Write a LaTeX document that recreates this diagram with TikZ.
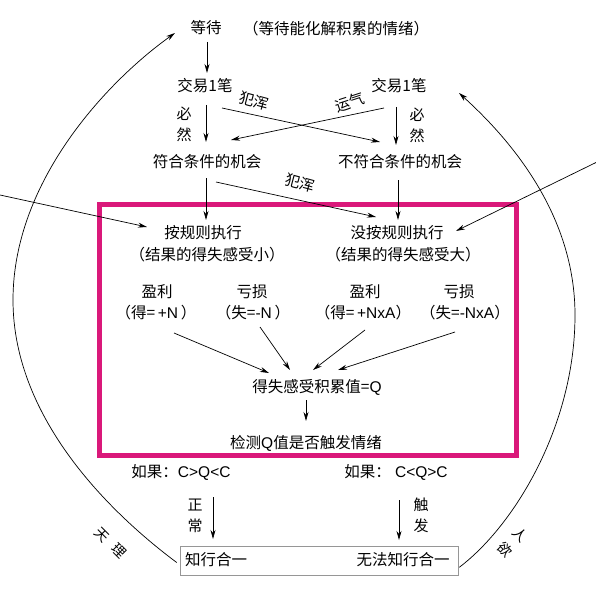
\documentclass[tikz,border=0pt]{standalone}
\usepackage{fontspec}
\newfontfamily\cjk{Noto Sans CJK SC}
\newfontfamily\lat{Liberation Sans}
\usetikzlibrary{arrows.meta}
\definecolor{framepink}{RGB}{218,24,122}
\definecolor{boxgray}{RGB}{150,150,150}
\begin{document}
\begin{tikzpicture}[x=1pt,y=-1pt,
  txt/.style={font=\cjk\fontsize{15.5}{18}\selectfont, inner sep=0pt},
  lbl/.style={font=\cjk\fontsize{15}{21}\selectfont, inner sep=0pt, align=center},
  arcl/.style={font=\cjk\fontsize{14}{16}\selectfont, inner sep=0pt, rotate=-45},
  arr/.style={draw, line width=0.7pt, -{Stealth[length=9pt,width=5pt]}}]
\useasboundingbox (0,0) rectangle (596,599);
% pink frame
\draw[framepink, line width=4.5pt] (99.5,204.5) rectangle (516.5,455.5);
% nodes
\node[txt] (wait) at (206,28) {等待};
\node[txt] (waitn) at (336,29) {（等待能化解积累的情绪）};
\node[txt] (t1) at (205,86) {交易1笔};
\node[txt] (t2) at (399,86) {交易1笔};
\node[lbl] (bi1) at (184,124) {必\\然};
\node[lbl] (bi2) at (417,125) {必\\然};
\node[lbl, rotate=-15] (fh1) at (254,101) {犯浑};
\node[lbl, rotate=18] (yq) at (350,102) {运气};
\node[txt] (c1) at (207,162) {符合条件的机会};
\node[txt] (c2) at (400,162) {不符合条件的机会};
\node[lbl, rotate=-15] (fh2) at (300,183) {犯浑};
\node[txt] (r1) at (203,233) {按规则执行};
\node[txt] (r1n) at (207,255) {（结果的得失感受小）};
\node[txt] (r2) at (397,233) {没按规则执行};
\node[txt] (r2n) at (403,255) {（结果的得失感受大）};
\node[txt] (p1) at (157,292) {盈利};
\node[txt] (p1n) at (156,313) {（得={\lat\,+N\,}）};
\node[txt] (l1) at (252,292) {亏损};
\node[txt] (l1n) at (253,313) {（失={\lat -N\,}）};
\node[txt] (p2) at (365,292) {盈利};
\node[txt] (p2n) at (363,313) {（得={\lat\,+NxA}）};
\node[txt] (l2) at (459,292) {亏损};
\node[txt] (l2n) at (465,313) {（失={\lat -NxA}）};
\node[txt] (Q) at (317,387) {得失感受积累值={\lat Q}};
\node[txt] (det) at (306,443) {检测{\lat Q}值是否触发情绪};
\node[txt] (if1) at (181,472) {如果：{\lat C>Q<C}};
\node[txt] (if2) at (396,472) {如果：{\lat\ C<Q>C}};
\node[lbl] (zc) at (195,516) {正\\常};
\node[lbl] (cf) at (421,515) {触\\发};
\node[draw=boxgray, line width=0.6pt, minimum width=278pt, minimum height=29pt, inner sep=0pt] (box) at (319,560.5) {};
\node[txt] (k1) at (216,560) {知行合一};
\node[txt] (k2) at (403,560) {无法知行合一};
\node[arcl] (tian) at (102,535) {天};
\node[arcl] (li) at (119,551) {理};
\node[arcl] (ren) at (520,535) {人};
\node[arcl] (yu) at (505,550) {欲};
\coordinate (lin) at (0,195);
\coordinate (rin) at (596,162.5);
% connectors
\draw[arr] ([shift={(1,14)}]wait.center) -- ([shift={(2,-13)}]t1.center);
\draw[arr] ([shift={(1,19)}]t1.center) -- ([shift={(-1,-20)}]c1.center);
\draw[arr] ([shift={(17,22)}]t1.center) -- ([shift={(-20,-20)}]c2.center);
\draw[arr] ([shift={(-15,22)}]t2.center) -- ([shift={(24,-22)}]c1.center);
\draw[arr] ([shift={(-3,21)}]t2.center) -- ([shift={(-4,-17)}]c2.center);
\draw[arr] ([shift={(-1,16)}]c1.center) -- ([shift={(3,-13)}]r1.center);
\draw[arr] ([shift={(9,20)}]c1.center) -- ([shift={(-21,-16)}]r2.center);
\draw[arr] ([shift={(-2,18)}]c2.center) -- ([shift={(1,-13)}]r2.center);
\draw[arr] (lin) -- ([shift={(-56,-6)}]r1.center);
\draw[arr] (rin) -- ([shift={(59,-2)}]r2.center);
\draw[arr] ([shift={(18,20)}]p1n.center) -- ([shift={(-48,-14)}]Q.center);
\draw[arr] ([shift={(7,14)}]l1n.center) -- ([shift={(-27,-17)}]Q.center);
\draw[arr] ([shift={(2,17)}]p2n.center) -- ([shift={(-4,-17)}]Q.center);
\draw[arr] ([shift={(-10,19)}]l2n.center) -- ([shift={(21,-17)}]Q.center);
\draw[arr] ([shift={(-11,13)}]Q.center) -- ([shift={(0,-22)}]det.center);
\draw[arr] ([shift={(32,25)}]if1.center) -- ([shift={(-3,-21)}]k1.center);
\draw[arr] ([shift={(3,28)}]if2.center) -- ([shift={(-4,-20)}]k2.center);
% big arcs
\draw[arr] ([shift={(-3,2)}]box.west) .. controls (113,515) and (13,420) .. (13,300)
  .. controls (13,180) and (109,80) .. ([shift={(-31,5)}]wait.center);
\draw[arr] ([shift={(1,-8)}]box.south east) .. controls (515,525) and (575,425) .. (575,315)
  .. controls (575,215) and (511,140) .. ([shift={(60,7)}]t2.center);
\end{tikzpicture}
\end{document}
